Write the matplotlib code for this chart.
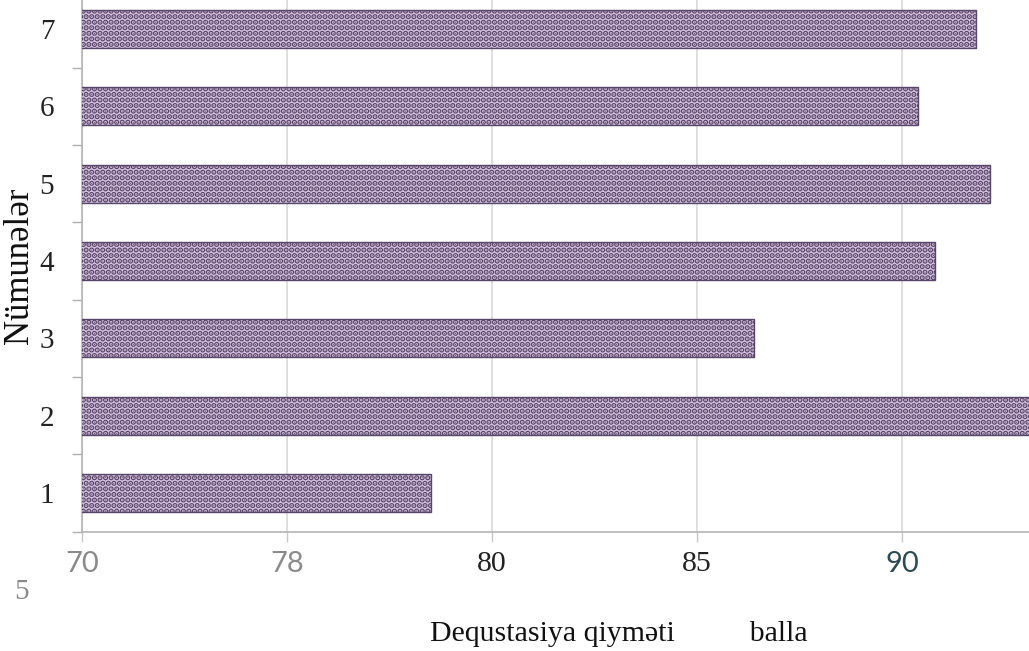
import matplotlib
matplotlib.use("Agg")
import matplotlib.pyplot as plt
import numpy as np

# ---- data ----
samples = ["1", "2", "3", "4", "5", "6", "7"]
scores = [78.5, 93.5, 86.4, 90.8, 92.15, 90.4, 91.8]
xtick_values = [70, 75, 80, 85, 90]
xtick_labels = ["70", "78", "80", "85", "90"]
xlabel_text = "Dequstasiya qiyməti          balla"
ylabel_text = "Nümunələr"
corner_text = "5"

W, H = 1029, 651
fig = plt.figure(figsize=(W / 100, H / 100), dpi=100)
fig.patch.set_facecolor("white")

left = 82 / W
bottom = 1 - 531.6 / H
top = 1 + 9.6 / H
ax = fig.add_axes([left, bottom, 1 - left, top - bottom])

y = np.arange(1, len(samples) + 1)
plt.rcParams["hatch.linewidth"] = 2.8
ax.barh(y, scores, height=0.49, left=0, color="#d6c3e2",
        edgecolor="#584666", linewidth=1.0, hatch="...", zorder=3)

ax.set_xlim(70, 70 + (W - 82) / 41.0)
ax.set_ylim(0.5, 7.5)

# gridlines
ax.set_xticks(xtick_values)
ax.set_xticklabels(xtick_labels)
ax.grid(axis="x", color="#d9d9d9", linewidth=1.2, zorder=0)
ax.tick_params(axis="x", length=7, color="#c8c8c8", width=1.0, pad=7)

# y ticks: labels at centers, tick marks at boundaries
ax.set_yticks(y)
ax.set_yticklabels(samples, fontfamily="Liberation Serif", fontsize=21, color="#222222")
ax.set_yticks(np.arange(0.5, 7.6, 1.0), minor=True)
ax.tick_params(axis="y", which="major", length=0, pad=20)
ax.tick_params(axis="y", which="minor", length=7, color="#b0b0b0", width=1.0)

for s in ["top", "right"]:
    ax.spines[s].set_visible(False)
for s in ["left", "bottom"]:
    ax.spines[s].set_color("#b4b4b4")
    ax.spines[s].set_linewidth(1.2)

# x tick label styles (mixed as in the reference)
styles = [
    dict(family="Lato", color="#8a8a8a", size=21),
    dict(family="Lato", color="#8a8a8a", size=21),
    dict(family="Liberation Serif", color="#222222", size=21.5),
    dict(family="Liberation Serif", color="#222222", size=21.5),
    dict(family="Lato", color="#2e4b52", size=21),
]
for lab, st in zip(ax.get_xticklabels(), styles):
    lab.set_fontfamily(st["family"])
    lab.set_color(st["color"])
    lab.set_fontsize(st["size"])

fig.text(22 / W, 1 - 592 / H, corner_text, fontfamily="Liberation Serif",
         fontsize=21, color="#8a8a8a", ha="center", va="center")
fig.text(619 / W, 1 - 634 / H, xlabel_text, fontfamily="Liberation Serif",
         fontsize=21.5, color="#111111", ha="center", va="center")
fig.text(20 / W, 1 - 266 / H, ylabel_text, fontfamily="Liberation Serif",
         fontsize=25, color="#111111", ha="center", va="center", rotation=90)

fig.savefig("out.png", dpi=100, facecolor="white")
